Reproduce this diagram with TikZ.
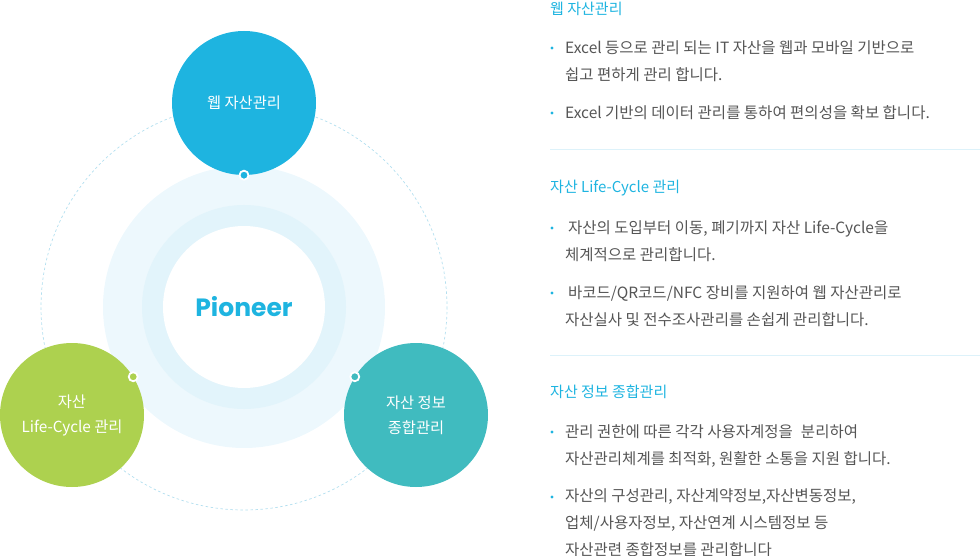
\documentclass[tikz,border=0pt]{standalone}
\usepackage{fontspec}
\setmainfont{Noto Sans CJK KR}
\newfontfamily\popfont{Poppins}

\definecolor{webblue}{HTML}{1EB4E0}
\definecolor{lifegreen}{HTML}{ADD14F}
\definecolor{infoteal}{HTML}{40BBBF}
\definecolor{ringout}{HTML}{EDF8FD}
\definecolor{ringmid}{HTML}{E2F4FB}
\definecolor{orbitblue}{HTML}{B3DFEF}
\definecolor{sepblue}{HTML}{DDF2FA}
\definecolor{bodygray}{HTML}{555555}

\tikzset{
    topic/.style={circle, minimum size=144pt, inner sep=0pt, text=white,
        align=center, font=\fontsize{15.3}{25}\selectfont},
    knob/.style={circle, minimum size=9pt, inner sep=0pt, draw=white, line width=1.8pt},
    heading/.style={anchor=base west, inner sep=0pt, text=webblue,
        font=\fontsize{15}{27}\selectfont},
    % multi-line para: base anchor sits on the last line
    para/.style={anchor=base west, inner sep=0pt, align=left, text=bodygray,
        font=\fontsize{15.5}{27}\selectfont},
    bulletdot/.style={circle, fill=webblue, minimum size=3.2pt, inner sep=0pt}
}

\begin{document}
\begin{tikzpicture}[x=1pt, y=-1pt]
    \useasboundingbox (0,0) rectangle (980,556);

    % orbit and rings
    \coordinate (hub) at (244,307);
    \draw[orbitblue, line width=0.7pt, dash pattern=on 2.5pt off 2.5pt] (hub) circle (203);
    \fill[ringout] (hub) circle (141);
    \fill[ringmid] (hub) circle (102);
    \fill[white] (hub) circle (81);
    \node[text=webblue, font=\popfont\bfseries\fontsize{25}{25}\selectfont] (core) at (hub) {Pioneer};

    % three topics
    \node[topic, fill=webblue] (web) at (244,103) {웹 자산관리};
    \node[topic, fill=lifegreen] (life) at (72,415) {자산\\Life-Cycle 관리};
    \node[topic, fill=infoteal] (info) at (416,415) {자산 정보\\종합관리};

    \node[knob, fill=webblue] (kweb) at (web.south) {};
    \node[knob, fill=lifegreen] (klife) at (life.32) {};
    \node[knob, fill=infoteal] (kinfo) at (info.148) {};

    % right hand text
    \node[heading] (h1) at (550,15) {웹 자산관리};
    \node[para] (p11) at (565,81) {Excel 등으로 관리 되는 IT 자산을 웹과 모바일 기반으로\\쉽고 편하게 관리 합니다.};
    \node[para] (p12) at (565,118.5) {Excel 기반의 데이터 관리를 통하여 편의성을 확보 합니다.};

    \draw[sepblue, line width=1pt] (550,150) -- (980,150);

    \node[heading] (h2) at (550,192.5) {자산 Life-Cycle 관리};
    \node[para] (p21) at (565,260.5) {\hspace{3pt}자산의 도입부터 이동, 폐기까지 자산 Life-Cycle을\\체계적으로 관리합니다.};
    \node[para] (p22) at (565,325.5) {\hspace{3pt}바코드/QR코드/NFC 장비를 지원하여 웹 자산관리로\\자산실사 및 전수조사관리를 손쉽게 관리합니다.};

    \draw[sepblue, line width=1pt] (550,355) -- (980,355);

    \node[heading] (h3) at (550,397.5) {자산 정보 종합관리};
    \node[para] (p31) at (565,464.5) {관리 권한에 따른 각각 사용자계정을\hspace{8pt}분리하여\\자산관리체계를 최적화, 원활한 소통을 지원 합니다.};
    \node[para] (p32) at (565,555) {자산의 구성관리, 자산계약정보,자산변동정보,\\업체/사용자정보, 자산연계 시스템정보 등\\자산관련 종합정보를 관리합니다};

    \foreach \y in {48,113,228,293,432,497}
        \node[bulletdot] (dot\y) at (552,\y) {};
\end{tikzpicture}
\end{document}
